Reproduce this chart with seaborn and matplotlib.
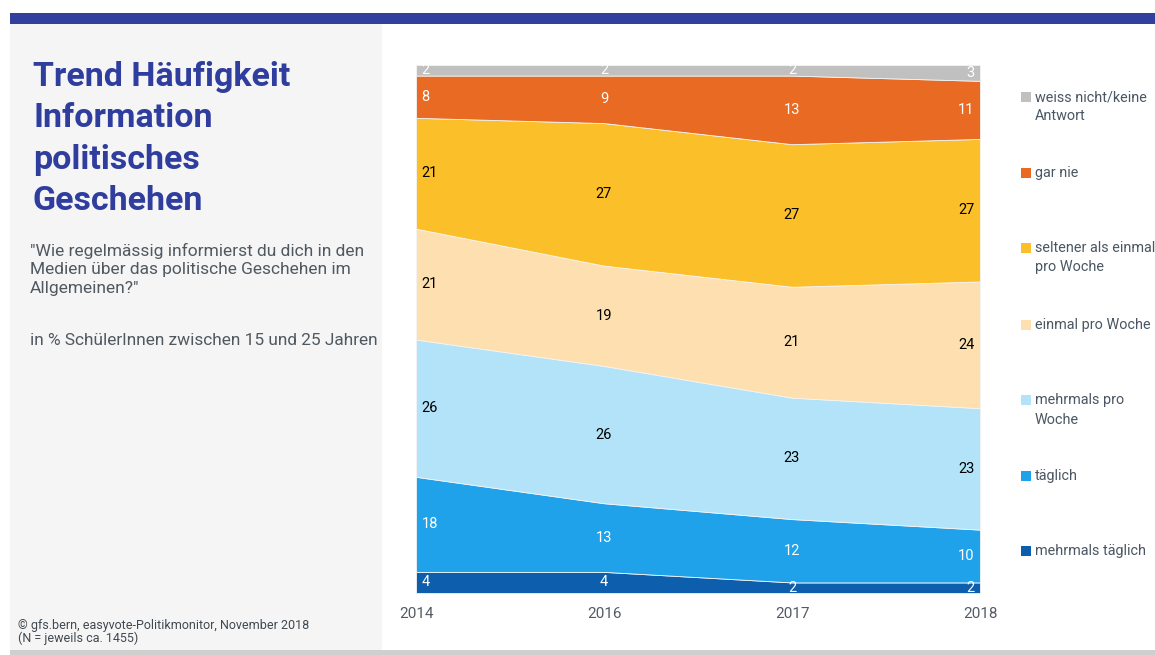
import matplotlib
matplotlib.use("Agg")
import matplotlib.pyplot as plt
from matplotlib.patches import Rectangle
import numpy as np
import pandas as pd
import seaborn as sns

# Survey waves and answer shares (%), bottom band first
years = ["2014", "2016", "2017", "2018"]
categories = [
    "mehrmals täglich",
    "täglich",
    "mehrmals pro\nWoche",
    "einmal pro Woche",
    "seltener als einmal\npro Woche",
    "gar nie",
    "weiss nicht/keine\nAntwort",
]
mehrmals_taeglich = [4, 4, 2, 2]
taeglich = [18, 13, 12, 10]
mehrmals_pro_woche = [26, 26, 23, 23]
einmal_pro_woche = [21, 19, 21, 24]
seltener = [21, 27, 27, 27]
gar_nie = [8, 9, 13, 11]
weiss_nicht = [2, 2, 2, 3]

colors = ["#0D5FAD", "#1FA2EA", "#B3E3F9", "#FDDFB0", "#FBBF29", "#E86A23", "#C0C0C0"]
label_colors = ["white", "white", "black", "black", "black", "white", "white"]

series = [mehrmals_taeglich, taeglich, mehrmals_pro_woche, einmal_pro_woche,
          seltener, gar_nie, weiss_nicht]
df = pd.DataFrame({c: s for c, s in zip(categories, series)}, index=years)

sns.set_theme(style="white")
FONT = ["Roboto", "DejaVu Sans"]
plt.rcParams["font.family"] = FONT

W, H = 1155, 655
fig = plt.figure(figsize=(W / 100, H / 100), dpi=100)
fig.patch.set_facecolor("white")

def px_rect(x0, y0, x1, y1, color):
    fig.patches.append(Rectangle((x0 / W, 1 - y1 / H), (x1 - x0) / W, (y1 - y0) / H,
                                 transform=fig.transFigure, color=color, zorder=0, lw=0))

px_rect(10, 13, W, 24, "#31409C")
px_rect(10, 24, 382, 650, "#F5F5F5")
px_rect(10, 650, W, H, "#CFCFCF")

ax = fig.add_axes([416 / W, 1 - 593 / H, (980 - 416) / W, 528 / H])
ax.set_facecolor("none")
x = np.arange(len(years))
bottom = np.zeros(len(years))
for cat, col, lc in zip(categories, colors, label_colors):
    vals = df[cat].to_numpy(dtype=float)
    top = bottom + vals
    ax.fill_between(x, bottom, top, color=col, lw=0.6, edgecolor="#f4f4f4")
    mids = (bottom + top) / 2
    for i, (v, m) in enumerate(zip(vals, mids)):
        ha = "left" if i == 0 else ("right" if i == len(years) - 1 else "center")
        dx = 0.03 if i == 0 else (-0.03 if i == len(years) - 1 else 0)
        ax.text(x[i] + dx, m, f"{int(v)}", ha=ha, va="center", color=lc, fontsize=10.5)
    bottom = top

ax.set_xlim(0, len(years) - 1)
ax.set_ylim(0, 100)
ax.set_yticks([])
ax.set_xticks(x)
ax.set_xticklabels(years, fontsize=11, color="#555B63")
ax.tick_params(axis="x", length=0, pad=10)
sns.despine(ax=ax, left=True, bottom=True)

# Legend, top entry first
leg_y = [97, 173, 248, 325, 400, 476, 551]
for cat, col, yy in zip(categories[::-1], colors[::-1], leg_y):
    fig.patches.append(Rectangle((1021 / W, 1 - (yy + 5) / H), 10 / W, 10 / H,
                                 transform=fig.transFigure, color=col, lw=0))
    fig.text(1035 / W, 1 - (yy - 7) / H, cat, ha="left", va="top", fontsize=10.4,
             color="#4A5663", linespacing=1.5)

fig.text(33 / W, 1 - 61 / H, "Trend Häufigkeit\nInformation\npolitisches\nGeschehen",
         ha="left", va="top", fontsize=24.5, fontweight="bold", color="#2F3E9E",
         linespacing=1.37)
fig.text(30 / W, 1 - 243 / H,
         "\"Wie regelmässig informierst du dich in den\nMedien über das politische Geschehen im\nAllgemeinen?\"",
         ha="left", va="top", fontsize=12.5, color="#505860", linespacing=1.28)
fig.text(30 / W, 1 - 333 / H, "in % SchülerInnen zwischen 15 und 25 Jahren",
         ha="left", va="top", fontsize=12.4, color="#505860")
fig.text(18 / W, 1 - 619 / H, "© gfs.bern, easyvote-Politikmonitor, November 2018\n(N = jeweils ca. 1455)",
         ha="left", va="top", fontsize=9, color="#404850", linespacing=1.0)

fig.savefig("out.png", dpi=100)
